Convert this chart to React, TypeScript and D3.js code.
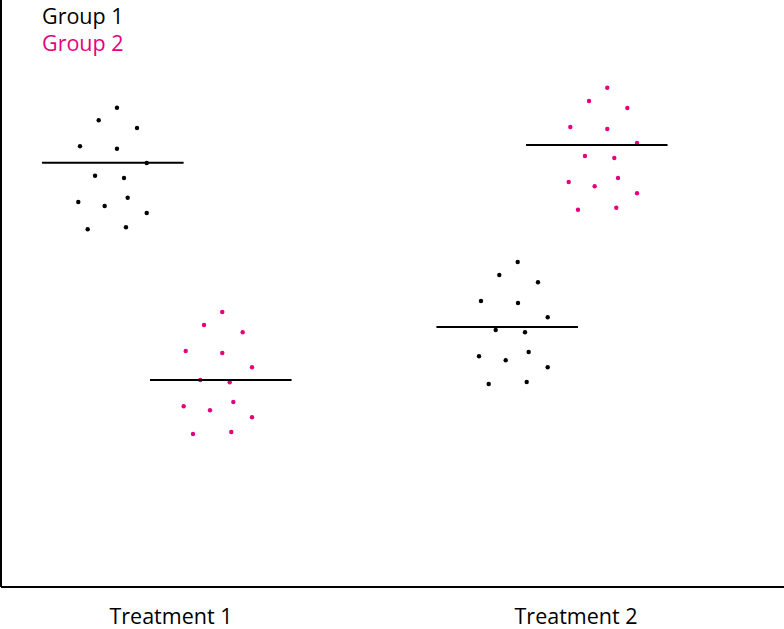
import React from "react";
import * as d3 from "d3";

const groups = ["Group 1", "Group 2"];
const groupColors = ["#000000", "#E6007E"];
const treatments = ["Treatment 1", "Treatment 2"];
const treatmentLabelX = [21.71, 73.44];

// clusters: T1G1, T1G2, T2G1, T2G2
const clusterGroup = [0, 1, 0, 1];
const clusterMeanX = [14.28, 28.07, 64.65, 76.09];
const clusterMeanY = [72.27, 35.26, 44.29, 75.3];
const meanHalfWidth = 9.04;

const pointsX = [
  [14.81, 12.48, 17.37, 10.09, 14.81, 18.61, 12.01, 15.71, 16.18, 9.87, 13.24, 18.61, 11.07, 15.96],
  [28.26, 25.93, 30.87, 23.59, 28.26, 32.06, 25.45, 29.21, 29.67, 23.33, 26.69, 32.06, 24.52, 29.41],
  [65.99, 63.64, 68.58, 61.3, 66.03, 69.82, 63.18, 66.92, 67.39, 61.05, 64.46, 69.82, 62.29, 67.14],
  [77.43, 75.1, 79.99, 72.71, 77.43, 81.23, 74.58, 78.33, 78.8, 72.5, 75.82, 81.23, 73.69, 78.58],
];
const pointsY = [
  [81.65, 79.51, 78.19, 75.08, 74.67, 72.23, 70.07, 69.68, 66.32, 65.59, 64.91, 63.71, 60.94, 61.28],
  [46.85, 44.63, 43.39, 40.2, 39.86, 37.43, 35.26, 34.87, 31.52, 30.78, 30.1, 28.91, 26.06, 26.41],
  [55.37, 53.15, 51.91, 48.72, 48.38, 45.95, 43.78, 43.39, 40.03, 39.3, 38.62, 37.43, 34.58, 34.92],
  [85.06, 82.79, 81.6, 78.36, 78.02, 75.64, 73.42, 73.08, 69.68, 68.99, 68.26, 67.07, 64.28, 64.62],
];

const W = 784;
const H = 629;
const left = 1;
const bottom = 587;

export default function App() {
  const x = d3.scaleLinear().domain([0, 100]).range([left, W]);
  const y = d3.scaleLinear().domain([0, 100]).range([bottom, 0]);
  const font = "'Open Sans', sans-serif";
  return (
    <svg
      width={W}
      height={H}
      style={{ position: "fixed", left: 0, top: 0, background: "#fff" }}
    >
      <rect width={W} height={H} fill="#fff" />
      {/* axes */}
      <line x1={left} x2={left} y1={0} y2={bottom} stroke="#000" strokeWidth={2} />
      <line x1={left} x2={W} y1={bottom} y2={bottom} stroke="#000" strokeWidth={2} />
      {/* points */}
      {pointsX.map((xs, c) =>
        xs.map((v, i) => (
          <circle
            key={`p${c}-${i}`}
            cx={x(v)}
            cy={y(pointsY[c][i])}
            r={2.2}
            fill={groupColors[clusterGroup[c]]}
          />
        ))
      )}
      {/* mean lines */}
      {clusterMeanX.map((m, c) => (
        <line
          key={`m${c}`}
          x1={x(m - meanHalfWidth)}
          x2={x(m + meanHalfWidth)}
          y1={y(clusterMeanY[c])}
          y2={y(clusterMeanY[c])}
          stroke="#000"
          strokeWidth={2}
        />
      ))}
      {/* treatment labels */}
      {treatments.map((t, i) => (
        <text
          key={t}
          x={x(treatmentLabelX[i])}
          y={624}
          textAnchor="middle"
          fontFamily={font}
          fontSize={21.5}
          fill="#000"
        >
          {t}
        </text>
      ))}
      {/* legend */}
      {groups.map((g, i) => (
        <text
          key={g}
          x={42}
          y={23.5 + i * 27}
          fontFamily={font}
          fontSize={21.5}
          fill={groupColors[i]}
        >
          {g}
        </text>
      ))}
    </svg>
  );
}
